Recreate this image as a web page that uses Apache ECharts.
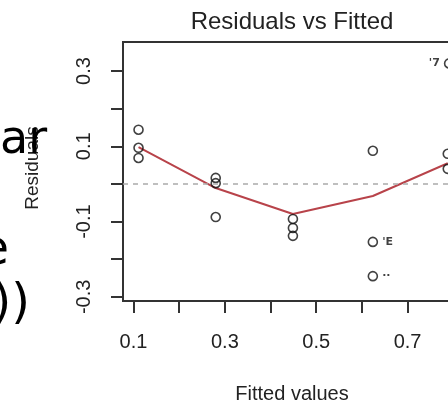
<!DOCTYPE html>
<html>
<head>
<meta charset="utf-8">
<script src="https://cdn.jsdelivr.net/npm/echarts@6/dist/echarts.min.js"></script>
<style>
  html, body { margin: 0; padding: 0; background: #fff; }
  #chart { width: 448px; height: 406px; }
</style>
</head>
<body>
<div id="chart"></div>
<script>
// Fitted values and residuals of the linear model (three observations per fitted level)
const fittedX = [0.111, 0.111, 0.111, 0.28, 0.28, 0.28, 0.449, 0.449, 0.449, 0.624, 0.624, 0.624, 0.788, 0.788, 0.791];
const residuals = [0.144, 0.096, 0.069, 0.016, 0.002, -0.088, -0.093, -0.117, -0.138, 0.088, -0.154, -0.245, 0.080, 0.040, 0.320];
// Observation ids printed beside the most extreme residuals
const pointLabels = ['', '', '', '', '', '', '', '', '', '', "'E", '··', '', '', "'7"];

// Smoothed trend of residuals against fitted values
const smoothX = [0.111, 0.28, 0.449, 0.624, 0.788];
const smoothY = [0.098, -0.011, -0.080, -0.032, 0.055];

// Axis ticks and the labelled subset
const xTicks = [0.1, 0.2, 0.3, 0.4, 0.5, 0.6, 0.7, 0.8];
const xTickLabels = [0.1, 0.3, 0.5, 0.7];
const yTicks = [-0.3, -0.2, -0.1, 0, 0.1, 0.2, 0.3];
const yTickLabels = [-0.3, -0.1, 0.1, 0.3];

const titleText = 'Residuals vs Fitted';
const xName = 'Fitted values';
const yName = 'Residuals';

const textColor = '#222';
const axisFont = 'Liberation Sans';

const pointData = fittedX.map((x, i) => {
  const item = { value: [x, residuals[i]] };
  if (pointLabels[i]) {
    item.label = {
      show: true,
      formatter: pointLabels[i],
      position: x > 0.7 ? 'left' : 'right',
      distance: 4,
      fontSize: 11,
      fontWeight: 'bold',
      color: '#111',
      fontFamily: 'DejaVu Sans'
    };
  }
  return item;
});

const chart = echarts.init(document.getElementById('chart'), null, { renderer: 'canvas' });

chart.setOption({
  animation: false,
  backgroundColor: '#fff',
  grid: {
    left: 123, top: 42, width: 338, height: 259,
    outerBoundsMode: 'none',
    containLabel: false,
    show: true, borderColor: '#333', borderWidth: 2, backgroundColor: 'transparent'
  },
  xAxis: {
    type: 'value', min: 0.077, max: 0.817,
    axisLine: { show: false, onZero: false },
    splitLine: { show: false },
    axisTick: { show: true, length: 12, customValues: xTicks, lineStyle: { color: '#333', width: 2 } },
    axisLabel: {
      customValues: xTickLabels, margin: 31,
      fontSize: 20, fontFamily: axisFont, color: textColor,
      formatter: v => v.toFixed(1)
    }
  },
  yAxis: {
    type: 'value', min: -0.311, max: 0.377,
    axisLine: { show: false, onZero: false },
    splitLine: { show: false },
    axisTick: { show: true, length: 12, customValues: yTicks, lineStyle: { color: '#333', width: 2 } },
    axisLabel: {
      customValues: yTickLabels, margin: 29, rotate: 90,
      fontSize: 20, fontFamily: axisFont, color: textColor,
      formatter: v => v.toFixed(1)
    }
  },
  series: [
    {
      type: 'scatter',
      data: pointData,
      symbol: 'circle',
      symbolSize: 9,
      itemStyle: { color: 'rgba(255,255,255,0)', borderColor: '#111', borderWidth: 1.6 },
      z: 3,
      markLine: {
        silent: true,
        symbol: 'none',
        label: { show: false },
        lineStyle: { color: '#aaa', type: [5, 5], width: 1.5 },
        data: [{ yAxis: 0 }]
      }
    },
    {
      type: 'line',
      data: smoothX.map((x, i) => [x, smoothY[i]]),
      showSymbol: false,
      lineStyle: { color: '#b8434a', width: 2 },
      z: 2
    }
  ],
  graphic: [
    { type: 'text', x: 292, y: 22, style: { text: titleText, font: '24px "Liberation Sans"', fill: textColor, align: 'center', verticalAlign: 'middle' } },
    { type: 'text', x: 292, y: 394, style: { text: xName, font: '20px "Liberation Sans"', fill: textColor, align: 'center', verticalAlign: 'middle' } },
    { type: 'text', x: 33, y: 168, rotation: Math.PI / 2, style: { text: yName, font: '19px "Liberation Sans"', fill: textColor, align: 'center', verticalAlign: 'middle' } },
    // Text running in from the neighbouring panel on the left
    { type: 'text', x: 0, y: 141, z: 10, style: { text: 'ar', font: '46px "DejaVu Sans"', fill: '#000', align: 'left', verticalAlign: 'middle' } },
    { type: 'text', x: 9, y: 252, z: 10, style: { text: 'e', font: '48px "DejaVu Sans"', fill: '#000', align: 'right', verticalAlign: 'middle' } },
    { type: 'text', x: 30, y: 306, z: 10, style: { text: '))', font: '48px "DejaVu Sans"', fill: '#000', align: 'right', verticalAlign: 'middle' } }
  ]
});
</script>
</body>
</html>
